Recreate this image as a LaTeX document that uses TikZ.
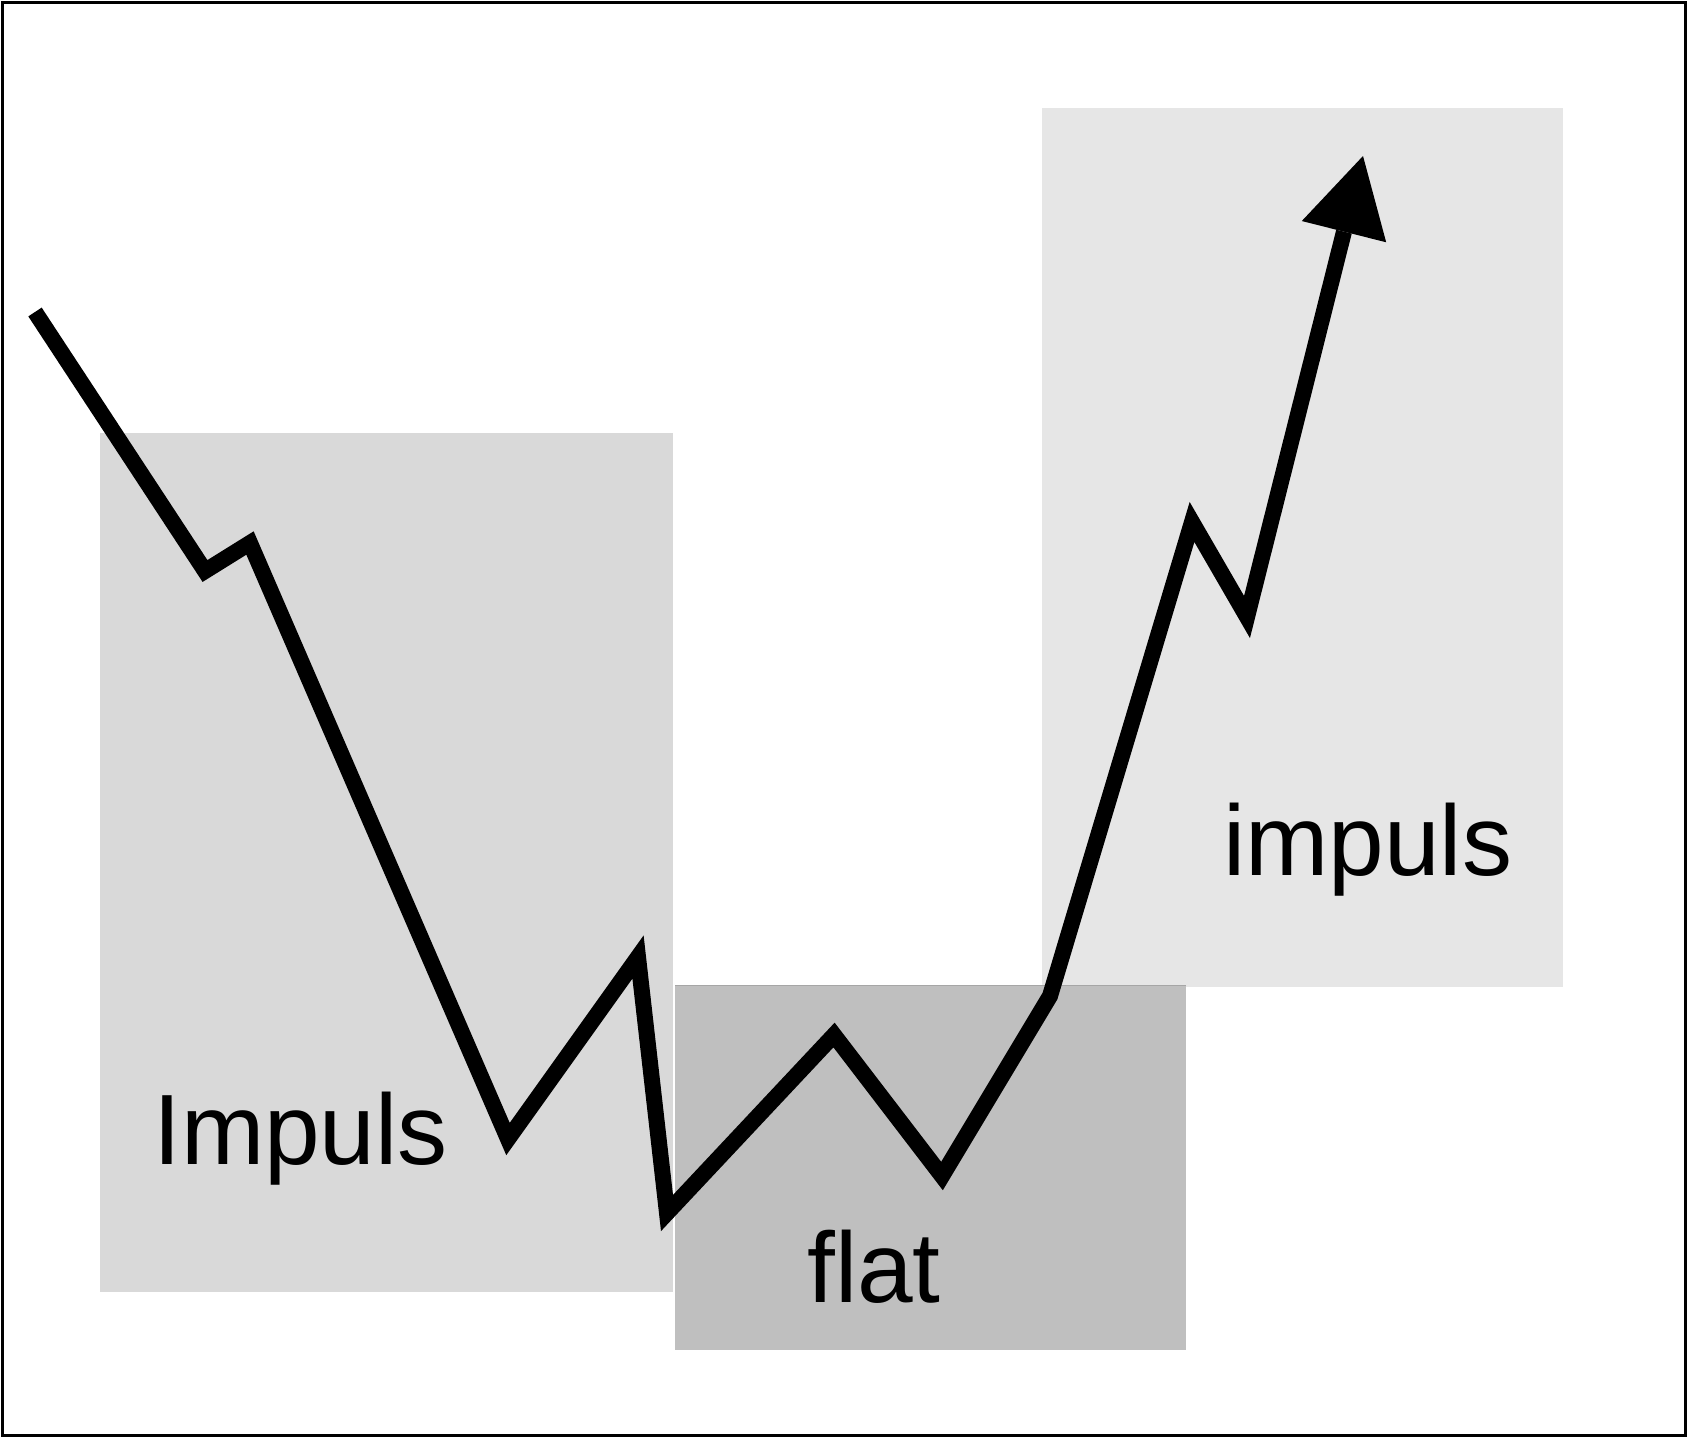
\documentclass[tikz,border=0pt]{standalone}
\usepackage{fontspec}
\setmainfont{Liberation Sans}
\usetikzlibrary{arrows.meta}
\definecolor{boxleft}{HTML}{D9D9D9}
\definecolor{boxflat}{HTML}{BFBFBF}
\definecolor{boxright}{HTML}{E6E6E6}
\definecolor{boxedge}{HTML}{A6A6A6}
\begin{document}
\begin{tikzpicture}[x=1pt,y=-1pt,
  wave/.style={line width=16pt, line join=miter, line cap=butt, miter limit=20},
  lbl/.style={anchor=base west, inner sep=0pt, font=\fontsize{100}{110}\selectfont}]
\useasboundingbox (0,0) rectangle (1688,1438);
\draw[line width=3pt] (2.5,2.5) rectangle (1685.5,1435.5);
% boxes
\fill[boxleft] (100,433) rectangle (673,1292);
\fill[boxright] (1042,108) rectangle (1562.5,986.6);
\fill[boxflat] (675,985.5) rectangle (1185.5,1350);
\draw[boxedge, line width=1.5pt] (675,985.5) -- (1185.5,985.5);
% labels
\node[lbl] (l1) at (153,1164) {Impuls};
\node[lbl] (l2) at (807,1302) {flat};
\node[lbl] (l3) at (1223,875) {impuls};
% price path
\coordinate (p0) at (35,312);
\coordinate (p1) at (205,571);
\coordinate (p2) at (250,543);
\coordinate (p3) at (508,1139);
\coordinate (p4) at (638,957);
\coordinate (p5) at (667,1213);
\coordinate (p6) at (834,1035);
\coordinate (p7) at (942,1176);
\coordinate (p8) at (1050,996);
\coordinate (p9) at (1192,522);
\coordinate (p10) at (1247,617);
\coordinate (p11) at (1363,156);
\draw[wave, -{Triangle[length=78pt,width=87pt,line width=0pt]}]
  (p0) -- (p1) -- (p2) -- (p3) -- (p4) -- (p5) -- (p6) -- (p7) -- (p8) -- (p9) -- (p10) -- (p11);
\end{tikzpicture}
\end{document}
